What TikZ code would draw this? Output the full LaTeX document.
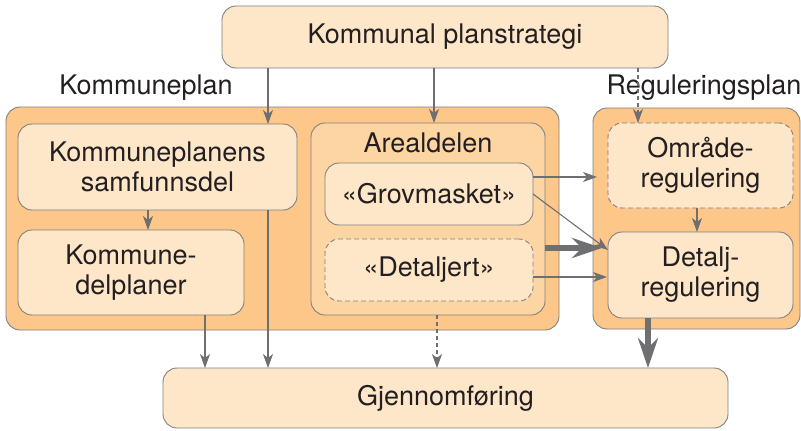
\documentclass[tikz,border=0pt]{standalone}
\usepackage{fontspec}
\setmainfont{TeX Gyre Heros}
\usetikzlibrary{arrows.meta,calc}
\definecolor{outerfill}{HTML}{FDC78A}
\definecolor{arealfill}{HTML}{FDD5A3}
\definecolor{innerfill}{HTML}{FEE6C9}
\definecolor{edgegray}{HTML}{808080}
\definecolor{arrgray}{HTML}{6E6F71}
\definecolor{txt}{HTML}{231F20}
\begin{document}
\begin{tikzpicture}[x=1pt,y=-1pt,
  font=\fontsize{27}{30}\selectfont, text=txt,
  box/.style={draw=edgegray, line width=0.9pt, rounded corners=14pt, inner sep=0pt, outer sep=0pt, align=center},
  outerbox/.style={box, fill=outerfill},
  arealbox/.style={box, fill=arealfill},
  innerbox/.style={box, fill=innerfill},
  dashbox/.style={innerbox, dash pattern=on 5pt off 3pt},
  arr/.style={draw=arrgray, line width=1.1pt, -{Stealth[length=14pt,width=10pt,inset=4pt]}},
  darr/.style={arr, dash pattern=on 4pt off 3pt},
  thickarr/.style={draw=arrgray, line width=6pt, -{Stealth[length=30pt,width=20pt,inset=10pt]}},
  lbl/.style={inner sep=0pt}
]
\useasboundingbox (0,0) rectangle (801,431);

% outer containers
\node[outerbox, minimum width=553pt, minimum height=223pt] (kp) at (282.5,218.5) {};
\node[outerbox, minimum width=207pt, minimum height=221pt] (rp) at (696.5,218.5) {};

% top and bottom
\node[innerbox, minimum width=446pt, minimum height=62pt] (top) at (445,37) {Kommunal planstrategi};
\node[innerbox, minimum width=565pt, minimum height=60pt] (gj) at (445.5,398) {Gjennomføring};

% labels
\node[lbl] (kplbl) at (146,88) {Kommuneplan};
\node[lbl] (rplbl) at (704,88) {Reguleringsplan};

% Kommuneplan content
\node[innerbox, minimum width=279pt, minimum height=86pt] (samf) at (157.5,167) {Kommuneplanens\\samfunnsdel};
\node[innerbox, minimum width=226pt, minimum height=85pt] (delp) at (131,272.5) {Kommune-\\delplaner};
\node[arealbox, minimum width=234pt, minimum height=192pt] (areal) at (428,219) {};
\node[lbl] (areallbl) at (428,143) {Arealdelen};
\node[innerbox, minimum width=208pt, minimum height=62pt] (grov) at (429,194) {«Grovmasket»};
\node[dashbox, minimum width=208pt, minimum height=62pt] (detj) at (429,270) {«Detaljert»};

% Reguleringsplan content
\node[dashbox, minimum width=185pt, minimum height=85pt] (omr) at (700.5,165.5) {Område-\\regulering};
\node[innerbox, minimum width=185pt, minimum height=86pt] (detr) at (700.5,275) {Detalj-\\regulering};

% x positions of vertical connectors
\coordinate (xa) at (268,0);
\coordinate (xb) at (434,0);
\coordinate (xc) at (638,0);
\coordinate (xd) at (148,0);
\coordinate (xe) at (205,0);
\coordinate (xf) at (437,0);
\coordinate (xg) at (648,0);
\coordinate (xh) at (697,0);

% end points of horizontal connectors
\coordinate (g1) at ($(grov.east)+(0,-17)$);
\coordinate (g1e) at (597,177);
\coordinate (d1) at ($(detr.west)+(0,-25)$);
\coordinate (a1) at ($(areal.east)+(0,29)$);
\coordinate (d2) at ($(detr.west)+(-6,-27)$);
\coordinate (j1) at ($(detj.east)+(0,7)$);
\coordinate (d3) at ($(detr.west)+(-1,2)$);

% connectors
\draw[arr] (top.south -| xa) -- (samf.north -| xa);
\draw[arr] (top.south -| xb) -- (areal.north -| xb);
\draw[darr] (top.south -| xc) -- (omr.north -| xc);
\draw[arr] (samf.south -| xd) -- (delp.north -| xd);
\draw[arr] (samf.south -| xa) -- (gj.north -| xa);
\draw[arr] (delp.south -| xe) -- (gj.north -| xe);
\draw[darr] (areal.south -| xf) -- (gj.north -| xf);
\draw[thickarr] (detr.south -| xg) -- (gj.north -| xg);
\draw[arr] (omr.south -| xh) -- (detr.north -| xh);

\draw[arr] (g1) -- (g1e);
\draw[arr] (grov.east) -- (d1);
\draw[thickarr] (a1) -- (d2);
\draw[arr] (j1) -- (d3);
\end{tikzpicture}
\end{document}
